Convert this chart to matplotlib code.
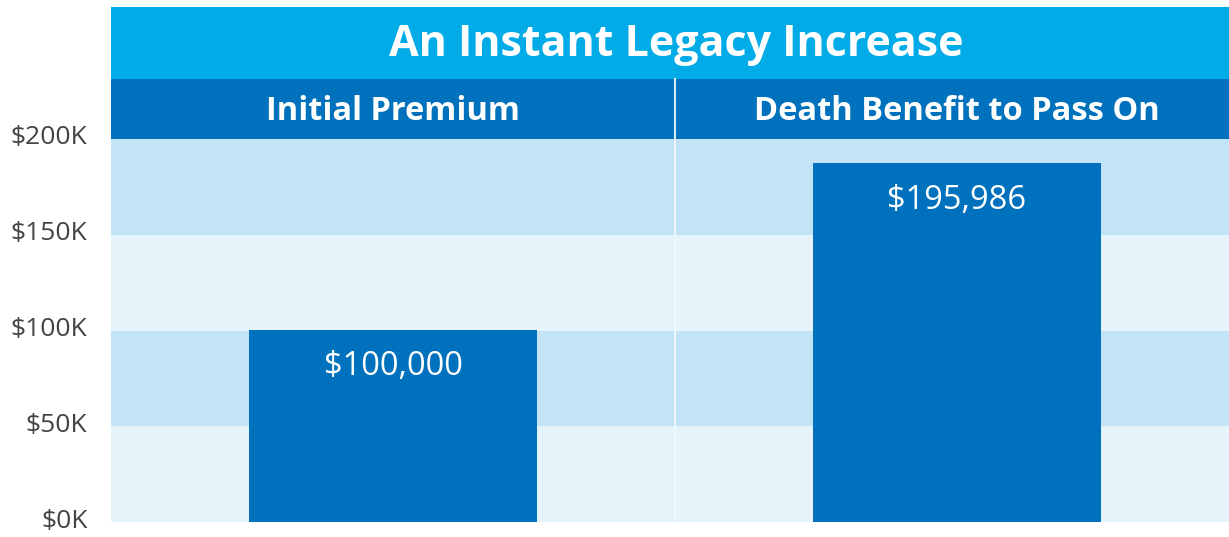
import matplotlib
matplotlib.use("Agg")
import matplotlib.pyplot as plt
from matplotlib.patches import Rectangle
from matplotlib.transforms import ScaledTranslation

categories = ["Initial Premium", "Death Benefit to Pass On"]
bar_values = [100500, 187500]          # bar heights as drawn in the picture
value_labels = ["$100,000", "$195,986"]
tick_values = [0, 50000, 100000, 150000, 200000]
tick_labels = ["$0K", "$50K", "$100K", "$150K", "$200K"]
title = "An Instant Legacy Increase"

plt.rcParams['font.family'] = ['Open Sans', 'DejaVu Sans']

W, H = 1229, 537
fig = plt.figure(figsize=(W / 100, H / 100), dpi=100)

def fx(px):
    return px / W

def fy(py):
    return 1 - py / H

left, right = 111, 1239
top, bottom = 139, 522
ax = fig.add_axes([fx(left), fy(bottom), fx(right - left), fy(top) - fy(bottom)])
ax.set_xlim(-0.5, 1.5)
ax.set_ylim(0, 200000)

band_colors = ["#E5F4FB", "#C2E4F6"]
ax.set_facecolor(band_colors[0])
for i in range(len(tick_values) - 1):
    if i % 2 == 1:
        ax.axhspan(tick_values[i], tick_values[i + 1], color=band_colors[1], zorder=0, lw=0)

ax.axvline(0.5, color="#EEF7FC", lw=1.5, zorder=1)

x = list(range(len(categories)))
ax.bar(x, bar_values, width=0.51, color="#0071BC", zorder=2)
for xi, v, lab in zip(x, bar_values, value_labels):
    ax.text(xi, v - 19500, lab, ha="center", va="center", color="white",
            fontsize=23.5, zorder=3)

ax.set_yticks(tick_values)
ax.set_yticklabels(tick_labels, fontsize=19, color="#444444")
ax.set_xticks([])
ax.tick_params(axis="y", length=0, pad=17)
for lab in ax.get_yticklabels():
    lab.set_transform(lab.get_transform() + ScaledTranslation(0, 4 / 100, fig.dpi_scale_trans))
for s in ax.spines.values():
    s.set_visible(False)

# header bands
fig.patches.append(Rectangle((fx(111), fy(79)), fx(1229 - 111), fy(7) - fy(79),
                             transform=fig.transFigure, color="#00ABE7", lw=0, zorder=5))
fig.patches.append(Rectangle((fx(111), fy(139)), fx(1229 - 111), fy(79) - fy(139),
                             transform=fig.transFigure, color="#0071BC", lw=0, zorder=5))
fig.text(fx(676), fy(45), title, ha="center", va="center", color="white",
         fontsize=31, fontweight="bold", zorder=6)
# divider in subheader
fig.add_artist(plt.Line2D([fx(675), fx(675)], [fy(139), fy(79)], transform=fig.transFigure,
                          color="#D5EBF7", lw=1.5, zorder=6))
for xi, cat in zip(x, categories):
    xd = ax.transData.transform((xi, 0))[0] / fig.dpi / fig.get_figwidth()
    fig.text(xd, fy(111), cat, ha="center", va="center", color="white",
             fontsize=23.5, fontweight="bold", zorder=6)

fig.savefig("out.png", dpi=100)
